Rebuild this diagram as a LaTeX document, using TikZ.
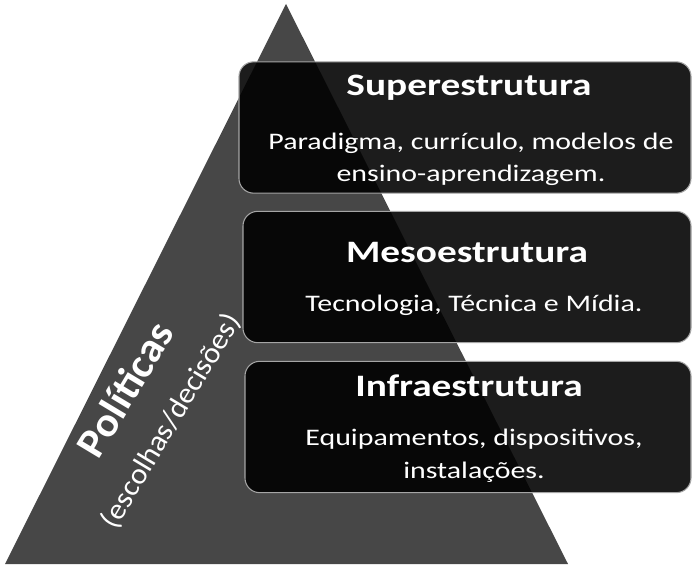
\documentclass[tikz,border=0pt]{standalone}
\usepackage{fontspec}
\setmainfont{Carlito}[FakeStretch=1.26]
\newfontfamily\polfont{Carlito}[FakeStretch=1.05]
\usepackage{tikz}
\usetikzlibrary{positioning}
\definecolor{PyrGray}{RGB}{71,71,71}
\definecolor{EdgeGray}{RGB}{165,165,165}

\begin{document}
\begin{tikzpicture}[x=0.75pt,y=-0.75pt,
  layer/.style={draw=EdgeGray, line width=0.8pt, fill=black, fill opacity=0.89, rounded corners=11pt, inner sep=0pt, minimum height=98.5pt},
  ttl/.style={anchor=base, text=white, font=\fontsize{23.4}{28}\selectfont\bfseries},
  desc/.style={anchor=base, text=white, align=center, font=\fontsize{17.8}{24.4}\selectfont},
  side/.style={rotate=59, text=white, inner sep=0pt}]
\useasboundingbox (0,0) rectangle (692,566);
% pyramid
\fill[PyrGray] (286,4) -- (568,564) -- (5,564) -- cycle;
% three levels (base anchor of a two-line text = its last line)
\node[layer, minimum width=339pt] (sup) at (465,127.5) {};
\node[ttl] (supT) at (469,96) {Superestrutura};
\node[desc] (supD) at (471,182) {Paradigma, currículo, modelos de\\ensino-aprendizagem.};
\node[layer, minimum width=336pt] (meso) at (467,277) {};
\node[ttl] (mesoT) at (467,263) {Mesoestrutura};
\node[desc] (mesoD) at (474,312) {Tecnologia, Técnica e Mídia.};
\node[layer, minimum width=334.5pt] (infra) at (468,427) {};
\node[ttl] (infraT) at (469,396) {Infraestrutura};
\node[desc] (infraD) at (474,478) {Equipamentos, dispositivos,\\instalações.};
% side label
\node[side, font=\polfont\fontsize{31}{36}\selectfont\bfseries] (pol) at (125,389) {Políticas};
\node[side, font=\polfont\fontsize{22}{26}\selectfont] (esc) at (171,421) {(escolhas/decisões)};
\end{tikzpicture}
\end{document}
